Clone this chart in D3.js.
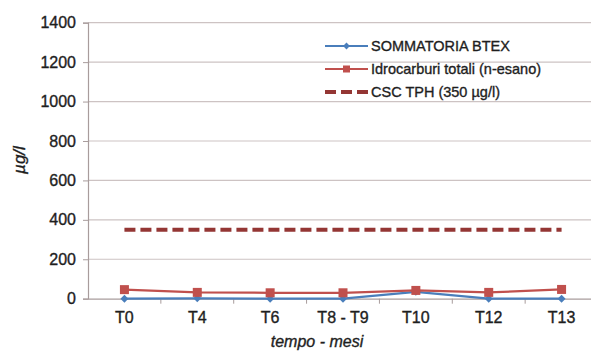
<!DOCTYPE html>
<html>
<head>
<meta charset="utf-8">
<script src="https://cdn.jsdelivr.net/npm/d3@7"></script>
<style>
  body { margin: 0; background: #fff; }
  svg { display: block; font-family: "Liberation Sans", Arial, sans-serif; }
  .lbl { fill: #1e1e1e; stroke: #1e1e1e; stroke-width: 0.35px; }
</style>
</head>
<body>
<div id="chart"></div>
<script>
const categories = ['T0', 'T4', 'T6', 'T8 - T9', 'T10', 'T12', 'T13'];
const btex = [0, 2, 0, 0, 35, 0, 0];
const idrocarburi = [46, 32, 30, 30, 42, 32, 47];
const cscTph = [350, 350, 350, 350, 350, 350, 350];
const yTicks = [0, 200, 400, 600, 800, 1000, 1200, 1400];
const legendNames = ['SOMMATORIA BTEX', 'Idrocarburi totali (n-esano)', 'CSC TPH (350 µg/l)'];

const width = 591, height = 353;
const margin = { left: 88, top: 22.7, right: 598, bottom: 298.7 };

const svg = d3.select('#chart').append('svg')
  .attr('width', width).attr('height', height);

const x = d3.scaleBand().domain(categories).range([margin.left, margin.right]);
const y = d3.scaleLinear().domain([0, 1400]).range([margin.bottom, margin.top]);
const cx = c => x(c) + x.bandwidth() / 2;

// grid
svg.append('g').selectAll('line')
  .data(yTicks.filter(d => d > 0))
  .enter().append('line')
  .attr('x1', margin.left).attr('x2', margin.right)
  .attr('y1', d => y(d)).attr('y2', d => y(d))
  .attr('stroke', '#cdc3c3').attr('stroke-width', 1.2);

// y axis
const yAxis = svg.append('g').attr('transform', `translate(${margin.left},0)`)
  .call(d3.axisLeft(y).tickValues(yTicks).tickFormat(d3.format('d')).tickSize(5).tickPadding(7));
yAxis.select('.domain').attr('stroke', '#a89c9c').attr('stroke-width', 1.2);
yAxis.selectAll('line').attr('stroke', '#a89c9c');
yAxis.selectAll('text').attr('class', 'lbl').style('font-size', '16px')
  .attr('font-family', '"Liberation Sans", Arial, sans-serif');

// x axis
const xAxis = svg.append('g').attr('transform', `translate(0,${margin.bottom})`)
  .call(d3.axisBottom(x).tickSize(0).tickPadding(13));
xAxis.select('.domain').attr('stroke', '#a89c9c').attr('stroke-width', 1.2);
xAxis.selectAll('text').attr('class', 'lbl').style('font-size', '16px')
  .attr('font-family', '"Liberation Sans", Arial, sans-serif');
xAxis.selectAll('.sep')
  .data(categories.slice(1))
  .enter().append('line')
  .attr('x1', d => x(d)).attr('x2', d => x(d))
  .attr('y1', 0).attr('y2', 5)
  .attr('stroke', '#a89c9c');

const line = d3.line().x((d, i) => cx(categories[i])).y(d => y(d));

// series
svg.append('path').datum(btex)
  .attr('d', line).attr('fill', 'none')
  .attr('stroke', '#4a7ebb').attr('stroke-width', 2.2);
svg.append('g').selectAll('path')
  .data(btex).enter().append('path')
  .attr('d', d3.symbol().type(d3.symbolDiamond2).size(40))
  .attr('transform', (d, i) => `translate(${cx(categories[i])},${y(d)})`)
  .attr('fill', '#4a7ebb');

svg.append('path').datum(idrocarburi)
  .attr('d', line).attr('fill', 'none')
  .attr('stroke', '#c0504d').attr('stroke-width', 2.2);
svg.append('g').selectAll('rect')
  .data(idrocarburi).enter().append('rect')
  .attr('x', (d, i) => cx(categories[i]) - 4.5)
  .attr('y', d => y(d) - 4.5)
  .attr('width', 9).attr('height', 9)
  .attr('fill', '#c0504d');

svg.append('path').datum(cscTph)
  .attr('d', line).attr('fill', 'none')
  .attr('stroke', '#943634').attr('stroke-width', 4)
  .attr('stroke-dasharray', '11,5');

// legend
const lg = svg.append('g').attr('transform', 'translate(325,46)');
const rows = lg.selectAll('g').data(legendNames).enter().append('g')
  .attr('transform', (d, i) => `translate(0,${i * 23})`);
rows.append('text').attr('class', 'lbl').attr('x', 46).attr('y', 5).text(d => d)
  .style('font-size', '14.5px');
rows.filter((d, i) => i === 0).append('line')
  .attr('x1', 0).attr('x2', 43).attr('stroke', '#4a7ebb').attr('stroke-width', 2);
rows.filter((d, i) => i === 0).append('path')
  .attr('d', d3.symbol().type(d3.symbolDiamond2).size(30))
  .attr('transform', 'translate(21.5,0)').attr('fill', '#4a7ebb');
rows.filter((d, i) => i === 1).append('line')
  .attr('x1', 0).attr('x2', 43).attr('stroke', '#c0504d').attr('stroke-width', 2);
rows.filter((d, i) => i === 1).append('rect')
  .attr('x', 18).attr('y', -3.5).attr('width', 7).attr('height', 7).attr('fill', '#c0504d');
rows.filter((d, i) => i === 2).append('line')
  .attr('x1', 0).attr('x2', 43).attr('stroke', '#943634').attr('stroke-width', 4)
  .attr('stroke-dasharray', '11,5');

// axis titles
svg.append('text').attr('class', 'lbl')
  .attr('transform', 'translate(25,160) rotate(-90)')
  .attr('text-anchor', 'middle')
  .style('font-size', '17px').style('font-style', 'italic')
  .text('µg/l');
svg.append('text').attr('class', 'lbl')
  .attr('x', 317).attr('y', 347)
  .attr('text-anchor', 'middle')
  .style('font-size', '16px').style('font-style', 'italic')
  .text('tempo - mesi');
</script>
</body>
</html>
